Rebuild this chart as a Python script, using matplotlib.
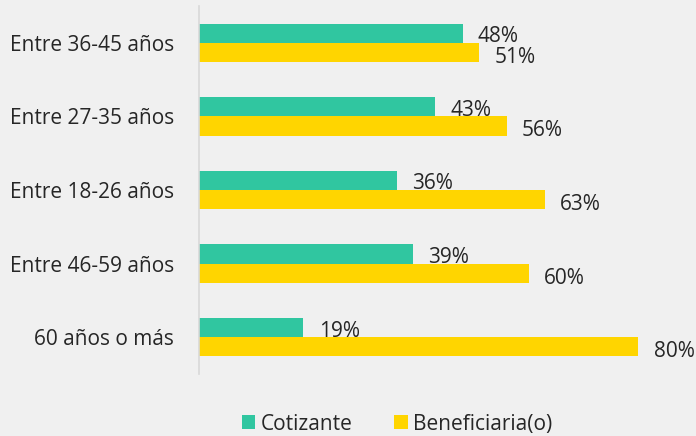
import matplotlib.pyplot as plt
import numpy as np

categorias = ['Entre 36-45 años', 'Entre 27-35 años', 'Entre 18-26 años',
              'Entre 46-59 años', '60 años o más']
cotizante = [48, 43, 36, 39, 19]
beneficiaria = [51, 56, 63, 60, 80]

verde = '#30C6A0'
amarillo = '#FFD500'
fondo = '#F0F0F0'
texto = '#262626'

plt.rcParams['font.family'] = ['Open Sans', 'DejaVu Sans']
fs = 15

fig = plt.figure(figsize=(6.96, 4.36), dpi=100, facecolor=fondo)
ax = fig.add_axes([199 / 696, (436 - 374) / 436, (696 - 199) / 696, 368 / 436])
ax.set_facecolor(fondo)

y = np.arange(len(categorias))
h = 0.26
b1 = ax.barh(y - h / 2, cotizante, height=h, color=verde, label='Cotizante')
b2 = ax.barh(y + h / 2, beneficiaria, height=h, color=amarillo, label='Beneficiaria(o)')

for rect, v in zip(b1, cotizante):
    ax.annotate(f'{v}%', (rect.get_width(), rect.get_y() + rect.get_height() / 2),
                xytext=(11, -2.5), textcoords='offset points', va='center', ha='left',
                fontsize=fs, color=texto)
for rect, v in zip(b2, beneficiaria):
    ax.annotate(f'{v}%', (rect.get_width(), rect.get_y() + rect.get_height() / 2),
                xytext=(11, -3.5), textcoords='offset points', va='center', ha='left',
                fontsize=fs, color=texto)

ax.set_xlim(0, 90.5)
ax.set_ylim(len(categorias) - 0.5, -0.5)
ax.set_yticks(y)
ax.set_yticklabels(categorias, fontsize=fs, color=texto)
ax.tick_params(axis='y', length=0, pad=18)
ax.set_xticks([])
for s in ['top', 'right', 'bottom']:
    ax.spines[s].set_visible(False)
ax.spines['left'].set_color('#D9D9D9')
ax.spines['left'].set_linewidth(1.2)

fig.legend(handles=[b1, b2], loc='center', bbox_to_anchor=(397 / 696, 12 / 436),
           ncol=2, frameon=False, fontsize=fs, handlelength=0.65, handleheight=0.65,
           handletextpad=0.25, columnspacing=2.0, labelcolor=texto)

fig.savefig('out.png', dpi=100, facecolor=fondo)
